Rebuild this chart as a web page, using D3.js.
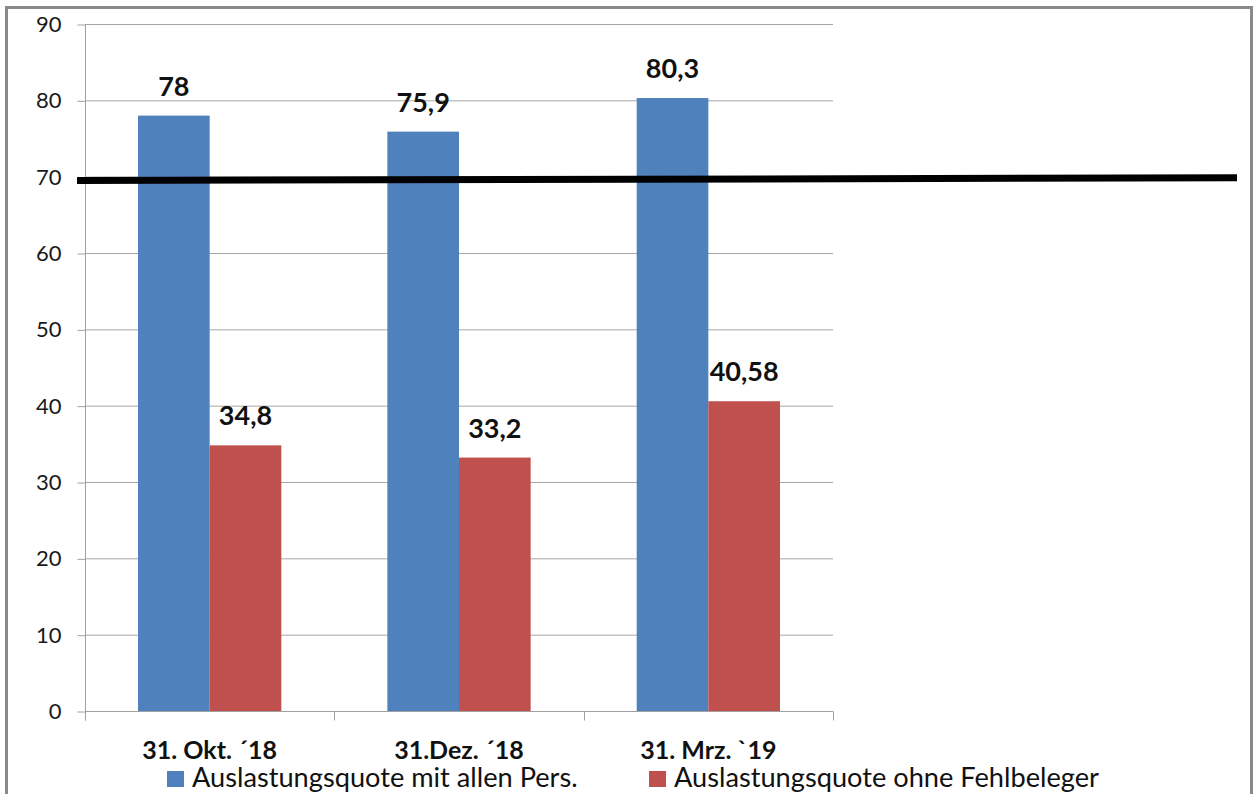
<!DOCTYPE html>
<html>
<head>
<meta charset="utf-8">
<script src="https://cdn.jsdelivr.net/npm/d3@7"></script>
<style>
  html, body { margin: 0; padding: 0; background: #fff; }
  svg { display: block; }
  text { font-family: Lato, "Open Sans", sans-serif; }
</style>
</head>
<body>
<svg id="chart" width="1257" height="794"></svg>
<script>
// Stichtage und Reihen
const categories = ["31. Okt. \u00B418", "31.Dez. \u00B418", "31. Mrz. `19"];
const seriesNames = ["Auslastungsquote mit allen Pers.", "Auslastungsquote ohne Fehlbeleger"];
const seriesColors = ["#4F81BD", "#C0504D"];
const mitAllenPers = [78, 75.9, 80.3];
const ohneFehlbeleger = [34.8, 33.2, 40.58];
const valueLabels = [["78", "75,9", "80,3"], ["34,8", "33,2", "40,58"]];
const yTicks = [0, 10, 20, 30, 40, 50, 60, 70, 80, 90];
// Zielmarke (leicht schräg gezogene Linie bei ca. 70)
const zielLinie = [69.5, 69.85];

const svg = d3.select("#chart");

// Rahmen
svg.append("rect")
  .attr("x", 6.5).attr("y", 7.5)
  .attr("width", 1245).attr("height", 800)
  .attr("fill", "none").attr("stroke", "#8a8a8a").attr("stroke-width", 3);

const plot = { left: 85, right: 833, top: 24, bottom: 711 };

const y = d3.scaleLinear().domain([0, 90]).range([plot.bottom, plot.top]);
const x0 = d3.scaleBand().domain(categories).range([plot.left, plot.right]).paddingInner(0).paddingOuter(0);
const x1 = d3.scaleBand().domain(d3.range(seriesNames.length)).range([0, x0.bandwidth()])
  .paddingInner(0).paddingOuter(0.74);

// Gitternetz
svg.append("g").selectAll("line").data(yTicks.filter(d => d > 0)).join("line")
  .attr("x1", plot.left).attr("x2", plot.right)
  .attr("y1", d => y(d) + 0.5).attr("y2", d => y(d) + 0.5)
  .attr("stroke", "#a6a6a6").attr("stroke-width", 1);

// Y-Achse
const yAxis = svg.append("g").attr("transform", `translate(${plot.left + 0.5},0.5)`)
  .call(d3.axisLeft(y).tickValues(yTicks).tickSize(8).tickPadding(16).tickFormat(d3.format("d")));
yAxis.select(".domain").attr("d", `M0,${plot.top}V${plot.bottom + 9}`).attr("stroke", "#a0a0a0");
yAxis.selectAll(".tick line").attr("stroke", "#a0a0a0");
yAxis.selectAll(".tick text").attr("font-size", 22).attr("fill", "#1a1a1a")
  .attr("font-family", "Lato, sans-serif");

// X-Achse
const xAxis = svg.append("g").attr("transform", `translate(0,${plot.bottom + 0.5})`);
xAxis.append("line").attr("x1", plot.left).attr("x2", plot.right)
  .attr("stroke", "#a0a0a0");
const boundaries = categories.map(c => x0(c)).concat([x0(categories[categories.length - 1]) + x0.bandwidth()]);
xAxis.selectAll("line.tick").data(boundaries).join("line").attr("class", "tick")
  .attr("x1", d => Math.round(d) + 0.5).attr("x2", d => Math.round(d) + 0.5)
  .attr("y1", 0).attr("y2", 9).attr("stroke", "#a0a0a0");
xAxis.selectAll("text").data(categories).join("text")
  .attr("x", d => x0(d) + x0.bandwidth() / 2)
  .attr("y", 47)
  .attr("text-anchor", "middle")
  .attr("font-size", 25).attr("font-weight", "bold").attr("fill", "#111")
  .text(d => d);

// Balken
const series = [mitAllenPers, ohneFehlbeleger];
const groups = svg.append("g").selectAll("g").data(categories).join("g")
  .attr("transform", d => `translate(${x0(d)},0)`);
groups.selectAll("rect").data((c, i) => series.map((s, k) => ({ k, v: s[i], label: valueLabels[k][i] })))
  .join("rect")
  .attr("x", d => x1(d.k)).attr("width", x1.bandwidth())
  .attr("y", d => y(d.v)).attr("height", d => y(0) - y(d.v))
  .attr("fill", d => seriesColors[d.k]);

// Datenbeschriftungen
groups.selectAll("text").data((c, i) => series.map((s, k) => ({ k, v: s[i], label: valueLabels[k][i] })))
  .join("text")
  .attr("x", d => x1(d.k) + x1.bandwidth() / 2)
  .attr("y", d => y(d.v) - 20)
  .attr("text-anchor", "middle")
  .attr("font-size", 27).attr("font-weight", "bold").attr("fill", "#111")
  .text(d => d.label);

// Zielmarke
const lx = d3.scaleLinear().domain([0, 1]).range([77, 1237]);
svg.append("path")
  .datum(zielLinie)
  .attr("d", d3.line().x((d, i) => lx(i)).y(d => y(d)))
  .attr("stroke", "#000").attr("stroke-width", 7).attr("fill", "none");

// Legende
const legend = svg.append("g");
const legendX = [167, 649];
seriesNames.forEach((name, k) => {
  legend.append("rect").attr("x", legendX[k]).attr("y", 771).attr("width", 17).attr("height", 16)
    .attr("fill", seriesColors[k]);
  legend.append("text").attr("x", legendX[k] + 25).attr("y", 787)
    .attr("font-size", 27.2).attr("fill", "#111").text(name);
});
</script>
</body>
</html>
